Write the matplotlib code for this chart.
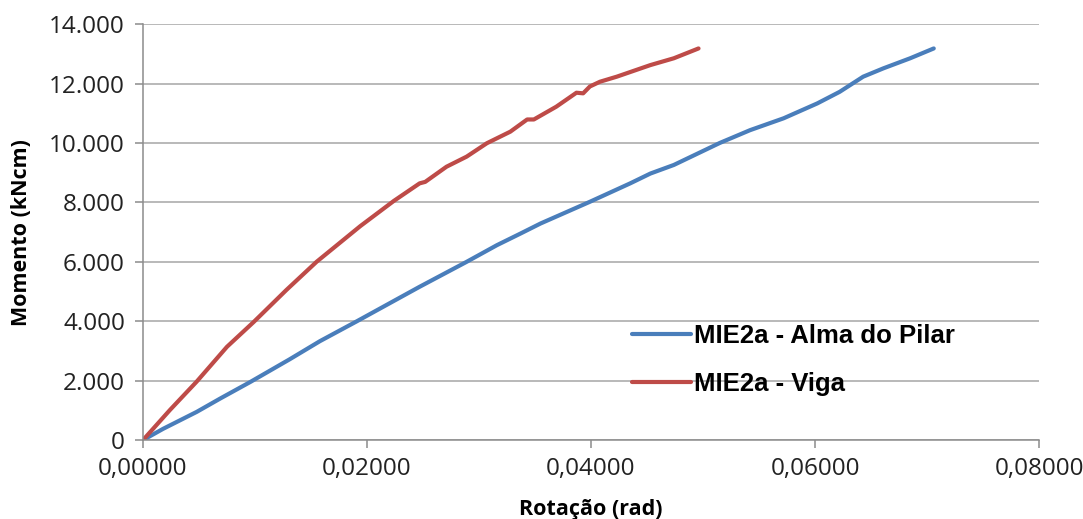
import matplotlib
matplotlib.use("Agg")
import matplotlib.pyplot as plt
from matplotlib.ticker import FuncFormatter, MultipleLocator

# Moment-rotation curves, MIE2a connection
rot_pilar = [0, 0.0018, 0.0048, 0.0069, 0.0096, 0.0131, 0.0158, 0.0191, 0.0247,
             0.0289, 0.0316, 0.0337, 0.0355, 0.0399, 0.0435, 0.0453, 0.0474,
             0.0515, 0.0542, 0.0572, 0.0602, 0.0622, 0.0643, 0.0661, 0.0685, 0.0706]
mom_pilar = [0, 380, 950, 1400, 1960, 2720, 3330, 4000, 5160,
             6000, 6560, 6950, 7290, 8020, 8640, 8970, 9260,
             10000, 10430, 10830, 11330, 11720, 12230, 12510, 12850, 13180]

rot_viga = [0, 0.0024, 0.0048, 0.0075, 0.0099, 0.0128, 0.0155, 0.0194, 0.0224,
            0.0247, 0.0252, 0.0271, 0.0289, 0.0307, 0.0328, 0.0343, 0.0349,
            0.0369, 0.0387, 0.0393, 0.0399, 0.0408, 0.0423, 0.0453, 0.0474, 0.0496]
mom_viga = [0, 1010, 1970, 3140, 3980, 5050, 6000, 7200, 8050,
            8640, 8690, 9200, 9540, 9990, 10380, 10790, 10790,
            11220, 11690, 11670, 11900, 12060, 12230, 12620, 12850, 13180]

labels = ["MIE2a - Alma do Pilar", "MIE2a - Viga"]
colors = ["#4A7EBB", "#BE4B48"]

fig = plt.figure(figsize=(10.83, 5.19), dpi=100)
ax = fig.add_axes([0.132, 0.152, 0.8274, 0.8016])

ax.plot(rot_pilar, mom_pilar, color=colors[0], lw=3.0, label=labels[0],
        solid_capstyle="round", solid_joinstyle="round")
ax.plot(rot_viga, mom_viga, color=colors[1], lw=3.0, label=labels[1],
        solid_capstyle="round", solid_joinstyle="round")

ax.set_xlim(0, 0.08)
ax.set_ylim(0, 14000)
ax.xaxis.set_major_locator(MultipleLocator(0.02))
ax.yaxis.set_major_locator(MultipleLocator(2000))

def fmt_y(v, pos):
    return f"{int(round(v)):,}".replace(",", ".")

def fmt_x(v, pos):
    return f"{v:.5f}".replace(".", ",")

ax.yaxis.set_major_formatter(FuncFormatter(fmt_y))
ax.xaxis.set_major_formatter(FuncFormatter(fmt_x))

ax.grid(axis="y", color="#A6A6A6", lw=1.1)
ax.set_axisbelow(True)
for s in ["top", "right"]:
    ax.spines[s].set_visible(False)
for s in ["left", "bottom"]:
    ax.spines[s].set_color("#8C8C8C")
    ax.spines[s].set_linewidth(1.1)

tick_font = "Open Sans"
ax.tick_params(axis="both", direction="out", length=6, width=1.1, color="#8C8C8C",
               labelsize=17.5, labelcolor="#222222")
ax.tick_params(axis="x", pad=6)
ax.tick_params(axis="y", pad=7)
for lab in ax.get_xticklabels() + ax.get_yticklabels():
    lab.set_fontfamily(tick_font)

ax.set_xlabel("Rotação (rad)", fontsize=15.5, fontweight="bold", family=tick_font, labelpad=13)
ax.set_ylabel("Momento (kNcm)", fontsize=15.5, fontweight="bold", family=tick_font, labelpad=12)

leg = ax.legend(loc="upper left", bbox_to_anchor=(0.52, 0.335), frameon=False,
                prop={"family": "Liberation Sans", "weight": "bold", "size": 18.5},
                handlelength=2.3, handletextpad=0.1, labelspacing=0.95)

fig.savefig("out.png", dpi=100)
